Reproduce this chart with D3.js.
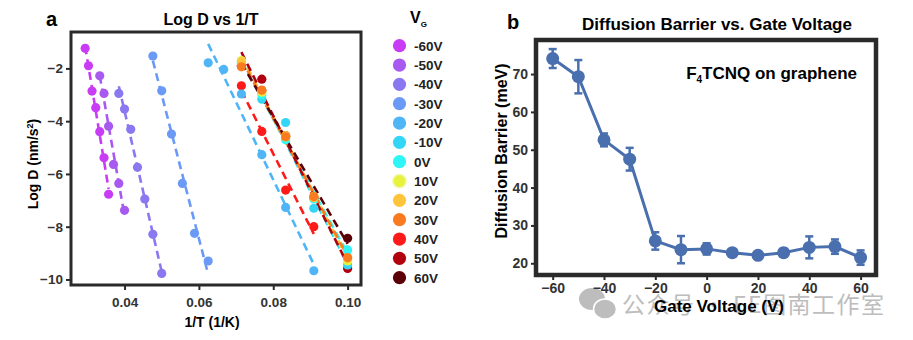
<!DOCTYPE html>
<html><head><meta charset="utf-8">
<script src="https://cdn.jsdelivr.net/npm/d3@7"></script>
<style>
body{margin:0;background:#fff;}
svg{font-family:"Liberation Sans",Arial,sans-serif;font-weight:bold;}
</style></head>
<body><svg id="c" width="913" height="340"></svg>
<script>
// ---- Panel a data ----
const voltages = ["-60V","-50V","-40V","-30V","-20V","-10V","0V","10V","20V","30V","40V","50V","60V"];
const seriesColors = ["#c93cf5","#a85af0","#8a78f0","#6a9af5","#4fb5f7","#33d6f7","#2ef6f6","#e6f23c","#ffc53a","#fa7a20","#ff1a1a","#b3000e","#5c0008"];
const tempM60 = [34,33,32,31,30,29,28];
const logDM60 = [-1.24,-1.90,-2.86,-3.49,-4.40,-5.39,-6.77];
const tempM50 = [30,29,28,27,26,25];
const logDM50 = [-2.28,-2.95,-4.19,-5.64,-6.36,-7.38];
const tempM40 = [26,25,24,23,22,21,20];
const logDM40 = [-2.95,-3.54,-4.31,-5.75,-6.95,-8.29,-9.77];
const tempM30 = [21,20,19,18,17,16];
const logDM30 = [-1.53,-2.85,-4.49,-6.36,-8.25,-9.30];
const tempM20 = [16,15,14,13,12,11];
const logDM20 = [-1.79,-2.04,-2.97,-5.27,-7.27,-9.67];
const tempM10 = [14,13,12,11,10];
const logDM10 = [-1.75,-3.17,-4.05,-7.30,-9.45];
const temp0 = [14,13,12,11,10];
const logD0 = [-1.80,-3.00,-4.70,-6.95,-8.88];
const tempP10 = [14,13,12,11,10];
const logDP10 = [-1.70,-2.90,-4.60,-6.85,-9.30];
const tempP20 = [14,13,12,11,10];
const logDP20 = [-1.75,-2.85,-4.55,-6.90,-9.20];
const tempP30 = [14,13,12,11,10];
const logDP30 = [-1.94,-2.82,-4.59,-6.86,-9.17];
const tempP40 = [14,13,12,11];
const logDP40 = [-2.66,-4.39,-6.61,-8.00];
const tempP50 = [14,13,12,11,10];
const logDP50 = [-1.90,-2.41,-4.55,-6.90,-9.58];
const tempP60 = [14,13,12,11,10];
const logDP60 = [-1.90,-2.85,-4.60,-6.88,-8.44];
const xTicksA = [0.04,0.06,0.08,0.10];
const yTicksA = [-2,-4,-6,-8,-10];

// ---- Panel b data ----
const gateV = [-60,-50,-40,-30,-20,-10,0,10,20,30,40,50,60];
const barrier = [74.1,69.3,52.6,47.5,25.9,23.6,23.8,22.8,22.1,22.8,24.2,24.4,21.5];
const barrierErr = [2.5,4.4,1.7,3.0,2.3,3.6,1.5,0.8,0.7,1.0,2.9,1.9,1.9];
const xTicksB = [-60,-40,-20,0,20,40,60];
const yTicksB = [20,30,40,50,60,70];

const temps = [tempM60,tempM50,tempM40,tempM30,tempM20,tempM10,temp0,tempP10,tempP20,tempP30,tempP40,tempP50,tempP60];
const logDs = [logDM60,logDM50,logDM40,logDM30,logDM20,logDM10,logD0,logDP10,logDP20,logDP30,logDP40,logDP50,logDP60];

const svg = d3.select("#c");
const dark = "#2a2a2a";

// ================= Panel a =================
const A = {l:71, r:361, t:32, b:285};
const xA = d3.scaleLinear().domain([0.0256,0.1036]).range([A.l,A.r]);
const yA = d3.scaleLinear().domain([-0.62,-10.21]).range([A.t,A.b]);

const gA = svg.append("g");
const axA_y = gA.append("g").attr("transform",`translate(${A.l},0)`)
  .call(d3.axisLeft(yA).tickValues(yTicksA).tickSize(5).tickSizeOuter(0).tickFormat(d3.format("d")));
const axA_x = gA.append("g").attr("transform",`translate(0,${A.b})`)
  .call(d3.axisBottom(xA).tickValues(xTicksA).tickSize(5).tickSizeOuter(0).tickFormat(d3.format(".2f")));
[axA_y,axA_x].forEach(a=>{
  a.select(".domain").remove();
  a.selectAll("line").attr("stroke",dark).attr("stroke-width",2);
  a.selectAll("text").attr("fill","#333").style("font-size","13.5px").style("font-weight","bold");
});
axA_x.selectAll("text").attr("dy","1.05em");

// series
const data = voltages.map((v,i)=>({v, color:seriesColors[i], pts: temps[i].map((t,j)=>({x:1/t, y:logDs[i][j]}))}));
const lineLayer = gA.append("g");
const ptLayer = gA.append("g");
data.forEach(s=>{
  const mx = d3.mean(s.pts,p=>p.x), my = d3.mean(s.pts,p=>p.y);
  const sxy = d3.sum(s.pts,p=>(p.x-mx)*(p.y-my)), sxx = d3.sum(s.pts,p=>(p.x-mx)**2);
  const slope = sxy/sxx, ic = my - slope*mx;
  const [x0,x1] = d3.extent(s.pts,p=>p.x);
  lineLayer.append("line")
    .attr("x1",xA(x0)).attr("y1",yA(ic+slope*x0))
    .attr("x2",xA(x1)).attr("y2",yA(ic+slope*x1))
    .attr("stroke",s.color).attr("stroke-width",2.6).attr("stroke-dasharray","8,5");
});
// draw the darkest warm series first so lighter ones sit on top, as in the reference
const drawOrder = [12,11,10,0,1,2,3,4,5,6,7,8,9];
drawOrder.forEach(i=>{
  const s = data[i];
  ptLayer.selectAll(null).data(s.pts).enter().append("circle")
    .attr("cx",p=>xA(p.x)).attr("cy",p=>yA(p.y)).attr("r",4.6).attr("fill",s.color);
});
gA.append("rect").attr("x",A.l).attr("y",A.t).attr("width",A.r-A.l).attr("height",A.b-A.t)
  .attr("fill","none").attr("stroke",dark).attr("stroke-width",3);

gA.append("text").attr("x",211).attr("y",25).attr("text-anchor","middle").style("font-size","16px").text("Log D vs 1/T");
gA.append("text").attr("x",46).attr("y",26).style("font-size","20px").text("a");
gA.append("text").attr("x",212).attr("y",327).attr("text-anchor","middle").style("font-size","14px").text("1/T (1/K)");
const ylA = gA.append("text").attr("transform","translate(38,164) rotate(-90)").attr("text-anchor","middle").style("font-size","14px");
ylA.append("tspan").text("Log D (nm/s");
ylA.append("tspan").attr("dy","-5").style("font-size","9px").text("2");
ylA.append("tspan").attr("dy","5").text(")");

// legend
const lg = svg.append("g");
const lgY = d3.scalePoint().domain(voltages).range([45.7,277.7]);
const vg = lg.append("text").attr("x",410).attr("y",23).style("font-size","16px");
vg.append("tspan").text("V");
vg.append("tspan").attr("dy","4").style("font-size","8px").text("G");
voltages.forEach((v,i)=>{
  lg.append("circle").attr("cx",399.5).attr("cy",lgY(v)).attr("r",6.6).attr("fill",seriesColors[i])
    .attr("stroke",v==="10V"?"#f3f7a8":"none").attr("stroke-width",1.5);
  lg.append("text").attr("x",414).attr("y",lgY(v)+5).style("font-size","13.5px").attr("fill","#222").text(v);
});

// ================= Panel b =================
const B = {l:536, r:876, t:40, b:275};
const xB = d3.scaleLinear().domain([-66.5,66]).range([B.l,B.r]);
const yB = d3.scaleLinear().domain([16.9,79]).range([B.b,B.t]);
const gB = svg.append("g");

// watermark
const wm = gB.append("g").attr("fill","#bdbdbd");
wm.append("ellipse").attr("cx",592).attr("cy",299).attr("rx",13).attr("ry",11);
wm.append("ellipse").attr("cx",605).attr("cy",309).attr("rx",11.5).attr("ry",10).attr("stroke","#fff").attr("stroke-width",1.5);
wm.append("text").attr("x",622).attr("y",313).style("font-size","23px").style("font-weight","normal")
  .style("font-family","'Noto Sans CJK SC',sans-serif").attr("textLength",262).text("公众号 · EE图南工作室");

const axB_y = gB.append("g").attr("transform",`translate(${B.l},0)`)
  .call(d3.axisLeft(yB).tickValues(yTicksB).tickSize(5).tickSizeOuter(0));
const axB_x = gB.append("g").attr("transform",`translate(0,${B.b})`)
  .call(d3.axisBottom(xB).tickValues(xTicksB).tickSize(5).tickSizeOuter(0));
[axB_y,axB_x].forEach(a=>{
  a.select(".domain").remove();
  a.selectAll("line").attr("stroke",dark).attr("stroke-width",2);
  a.selectAll("text").attr("fill","#333").style("font-size","14px").style("font-weight","bold");
});

const blue = "#4a6fae";
const bData = gateV.map((g,i)=>({x:g,y:barrier[i],e:barrierErr[i]}));
gB.append("path").datum(bData).attr("fill","none").attr("stroke",blue).attr("stroke-width",3)
  .attr("d",d3.line().x(d=>xB(d.x)).y(d=>yB(d.y)));
const eb = gB.append("g").attr("stroke",blue).attr("stroke-width",2.5);
bData.forEach(d=>{
  eb.append("line").attr("x1",xB(d.x)).attr("x2",xB(d.x)).attr("y1",yB(d.y-d.e)).attr("y2",yB(d.y+d.e));
  [d.y-d.e,d.y+d.e].forEach(v=>eb.append("line").attr("x1",xB(d.x)-4).attr("x2",xB(d.x)+4).attr("y1",yB(v)).attr("y2",yB(v)));
});
gB.selectAll(null).data(bData).enter().append("circle")
  .attr("cx",d=>xB(d.x)).attr("cy",d=>yB(d.y)).attr("r",6.5).attr("fill",blue);

gB.append("rect").attr("x",B.l).attr("y",B.t).attr("width",B.r-B.l).attr("height",B.b-B.t)
  .attr("fill","none").attr("stroke",dark).attr("stroke-width",4.5);

gB.append("text").attr("x",717).attr("y",30).attr("text-anchor","middle").style("font-size","17px").text("Diffusion Barrier vs. Gate Voltage");
gB.append("text").attr("x",507).attr("y",29).style("font-size","20px").text("b");
const f4 = gB.append("text").attr("x",857).attr("y",79).attr("text-anchor","end").style("font-size","17px");
f4.append("tspan").text("F");
f4.append("tspan").attr("dy","4").style("font-size","10px").text("4");
f4.append("tspan").attr("dy","-4").text("TCNQ on graphene");
gB.append("text").attr("x",719).attr("y",312).attr("text-anchor","middle").style("font-size","17px").text("Gate Voltage (V)");
gB.append("text").attr("transform","translate(507,151) rotate(-90)").attr("text-anchor","middle").style("font-size","16px").text("Diffusion Barrier (meV)");
</script></body></html>
